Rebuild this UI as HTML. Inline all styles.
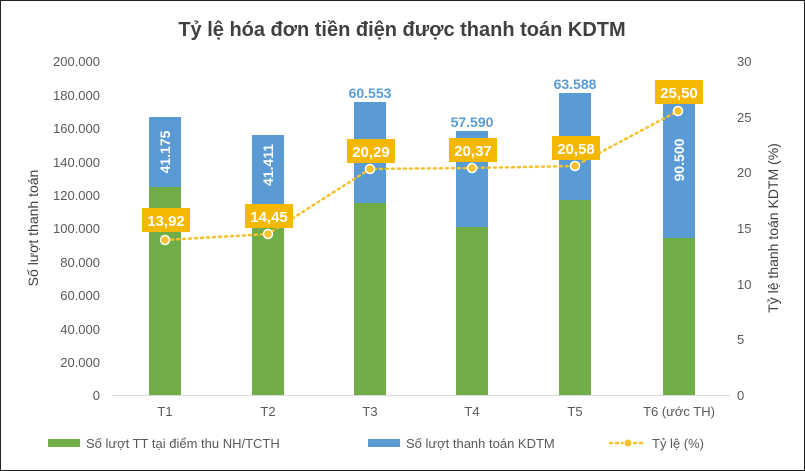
<!DOCTYPE html>
<html><head><meta charset="utf-8"><style>
html,body{margin:0;padding:0;background:#fff}
svg{display:block;font-family:"Liberation Sans",sans-serif}
</style></head><body>
<svg width="805" height="471" viewBox="0 0 805 471" xmlns="http://www.w3.org/2000/svg">
<rect x="0.5" y="0.5" width="804" height="470" fill="#fff" stroke="#222" stroke-width="1"/>
<text x="402" y="36" text-anchor="middle" font-size="20" font-weight="bold" fill="#404040">Tỷ lệ hóa đơn tiền điện được thanh toán KDTM</text>
<g font-size="13" fill="#595959" text-anchor="end">
<text x="100" y="66">200.000</text><text x="100" y="100">180.000</text><text x="100" y="133">160.000</text><text x="100" y="167">140.000</text><text x="100" y="200">120.000</text><text x="100" y="233">100.000</text><text x="100" y="267">80.000</text><text x="100" y="300">60.000</text><text x="100" y="334">40.000</text><text x="100" y="367">20.000</text><text x="100" y="400">0</text>
</g>
<g font-size="13" fill="#595959" text-anchor="start">
<text x="737" y="66">30</text><text x="737" y="122">25</text><text x="737" y="177">20</text><text x="737" y="233">15</text><text x="737" y="289">10</text><text x="737" y="344">5</text><text x="737" y="400">0</text>
</g>
<text transform="translate(38,228) rotate(-90)" text-anchor="middle" font-size="14" fill="#404040">Số lượt thanh toán</text>
<text transform="translate(778,228) rotate(-90)" text-anchor="middle" font-size="14" fill="#404040">Tỷ lệ thanh toán KDTM (%)</text>
<line x1="112" y1="395.5" x2="730" y2="395.5" stroke="#d9d9d9"/>
<g fill="#70ad47">
<rect x="149" y="187" width="32" height="208"/><rect x="252" y="225" width="32" height="170"/><rect x="354" y="203" width="32" height="192"/><rect x="456" y="227" width="32" height="168"/><rect x="559" y="200" width="32" height="195"/><rect x="663" y="238" width="32" height="157"/>
</g>
<g fill="#5b9bd5">
<rect x="149" y="117" width="32" height="70"/><rect x="252" y="135" width="32" height="90"/><rect x="354" y="102" width="32" height="101"/><rect x="456" y="131" width="32" height="96"/><rect x="559" y="93" width="32" height="107"/><rect x="663" y="88" width="32" height="150"/>
</g>
<g font-size="14" font-weight="bold" fill="#fff" text-anchor="middle">
<text transform="translate(170,152) rotate(-90)">41.175</text>
<text transform="translate(273,165) rotate(-90)">41.411</text>
<text transform="translate(684,160) rotate(-90)">90.500</text>
</g>
<g font-size="14" font-weight="bold" fill="#5b9bd5" text-anchor="middle">
<text x="370" y="98">60.553</text><text x="472" y="127">57.590</text><text x="575" y="89">63.588</text>
</g>
<g font-size="13" fill="#595959" text-anchor="middle">
<text x="165" y="416">T1</text><text x="268" y="416">T2</text><text x="370" y="416">T3</text><text x="472" y="416">T4</text><text x="575" y="416">T5</text><text x="679" y="416">T6 (ước TH)</text>
</g>
<polyline points="165,240 268,234 370,169 472,168 575,166 678,111" fill="none" stroke="#f5c12c" stroke-width="2.5" stroke-dasharray="2,4" stroke-linecap="round"/>
<g fill="#f5c12c" stroke="#fff" stroke-width="1.5">
<circle cx="165" cy="240" r="4.5"/><circle cx="268" cy="234" r="4.5"/><circle cx="370" cy="169" r="4.5"/><circle cx="472" cy="168" r="4.5"/><circle cx="575" cy="166" r="4.5"/><circle cx="678" cy="111" r="4.5"/>
</g>
<g fill="#f5b800">
<rect x="142" y="208" width="48" height="24"/><rect x="245" y="204" width="48" height="24"/><rect x="347" y="139" width="48" height="24"/><rect x="449" y="138" width="48" height="24"/><rect x="552" y="136" width="48" height="24"/><rect x="655" y="80" width="48" height="24"/>
</g>
<g font-size="15" font-weight="bold" fill="#fff" text-anchor="middle">
<text x="166" y="226">13,92</text><text x="269" y="222">14,45</text><text x="371" y="157">20,29</text><text x="473" y="156">20,37</text><text x="576" y="154">20,58</text><text x="679" y="98">25,50</text>
</g>
<rect x="48" y="439" width="32" height="8" fill="#70ad47"/>
<text x="86" y="448" font-size="13" fill="#595959">Số lượt TT tại điểm thu NH/TCTH</text>
<rect x="368" y="439" width="32" height="8" fill="#5b9bd5"/>
<text x="406" y="448" font-size="13" fill="#595959">Số lượt thanh toán KDTM</text>
<line x1="610" y1="443" x2="646" y2="443" stroke="#f5c12c" stroke-width="2.5" stroke-dasharray="2,4" stroke-linecap="round"/>
<circle cx="628" cy="443" r="4" fill="#f5c12c" stroke="#fff" stroke-width="1"/>
<text x="652" y="448" font-size="13" fill="#595959">Tỷ lệ (%)</text>
</svg>
</body></html>
